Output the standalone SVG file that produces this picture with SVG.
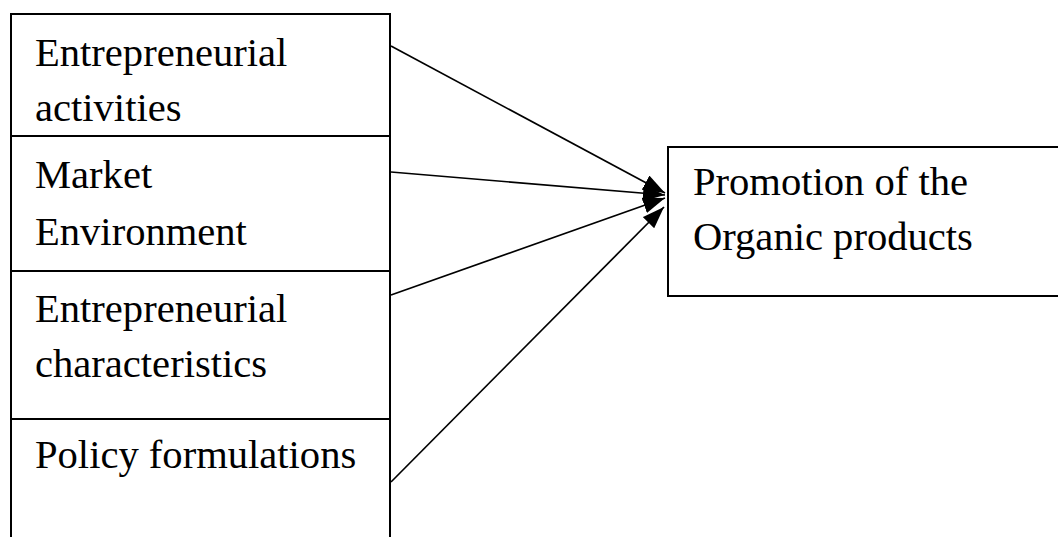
<svg xmlns="http://www.w3.org/2000/svg" width="1058" height="537" viewBox="0 0 1058 537">
<style>
.box{fill:#fff;stroke:#000;stroke-width:2}
.t{font-family:"Liberation Serif","Times New Roman",serif;font-size:40.6px;fill:#000}
.c{stroke:#000;stroke-width:1.7;fill:none}
</style>
<defs>
<marker id="ah" markerUnits="userSpaceOnUse" markerWidth="22" markerHeight="16" viewBox="0 0 22 16" refX="22" refY="8" orient="auto">
<path d="M0,0 L22,8 L0,16 z" fill="#000"/>
</marker>
</defs>
<rect width="1058" height="537" fill="#fff"/>
<g id="n1">
<rect class="box" x="11" y="14" width="379" height="122"/>
<text class="t" x="35" y="66">Entrepreneurial</text>
<text class="t" x="35" y="121">activities</text>
</g>
<g id="n2">
<rect class="box" x="11" y="136" width="379" height="135"/>
<text class="t" x="35" y="188">Market</text>
<text class="t" x="35" y="245">Environment</text>
</g>
<g id="n3">
<rect class="box" x="11" y="271" width="379" height="148"/>
<text class="t" x="35" y="322">Entrepreneurial</text>
<text class="t" x="35" y="377">characteristics</text>
</g>
<g id="n4">
<rect class="box" x="11" y="419" width="379" height="200"/>
<text class="t" x="35" y="468">Policy formulations</text>
</g>
<g id="n5">
<rect class="box" x="668" y="147" width="500" height="149"/>
<text class="t" x="693" y="195">Promotion of the</text>
<text class="t" x="693" y="250">Organic products</text>
</g>
<g id="connectors">
<line class="c" x1="391" y1="46" x2="665" y2="193" marker-end="url(#ah)"/>
<line class="c" x1="391" y1="172" x2="665" y2="195" marker-end="url(#ah)"/>
<line class="c" x1="391" y1="295" x2="665" y2="198" marker-end="url(#ah)"/>
<line class="c" x1="391" y1="482" x2="664" y2="207" marker-end="url(#ah)"/>
</g>
</svg>
